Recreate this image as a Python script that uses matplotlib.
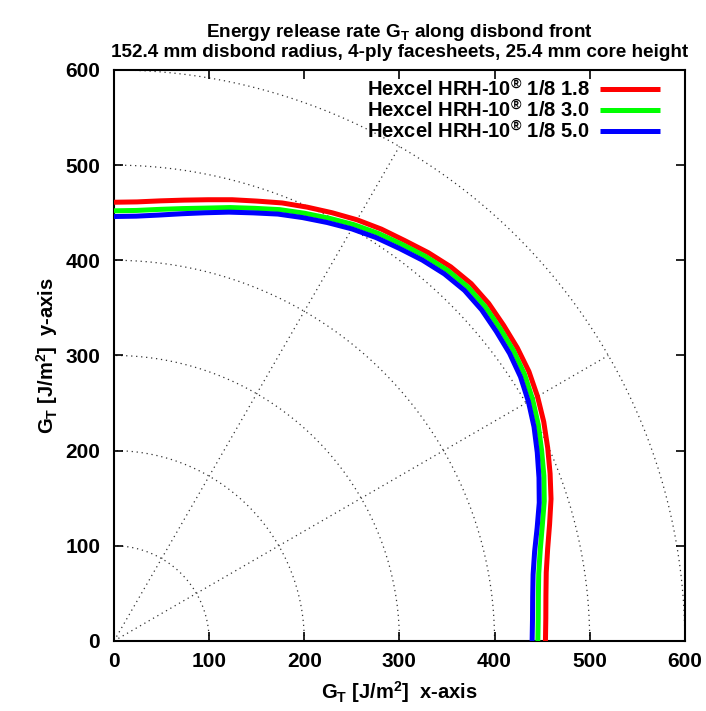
import numpy as np
import matplotlib
matplotlib.use("Agg")
import matplotlib.pyplot as plt

plt.rcParams['font.family'] = ['Liberation Sans', 'DejaVu Sans']
plt.rcParams['font.weight'] = 'bold'
plt.rcParams['axes.titleweight'] = 'bold'
plt.rcParams['axes.labelweight'] = 'bold'
plt.rcParams['mathtext.fontset'] = 'custom'
plt.rcParams['mathtext.rm'] = 'Liberation Sans:bold'
plt.rcParams['mathtext.it'] = 'Liberation Sans:italic:bold'
plt.rcParams['mathtext.bf'] = 'Liberation Sans:bold'

# angle along the disbond front (deg) and G_T values
angle = list(range(0, 91, 3))
g_18 = [453.5, 454.5, 456.5, 460, 466, 474, 483, 491, 499, 507, 514,
        520, 524, 527, 530, 531, 529, 525, 520, 516, 511, 505, 499,
        493, 486, 480, 474, 469, 465, 462, 461]
g_30 = [445.5, 446.5, 448.5, 452, 458, 466, 475.5, 484, 492, 500.5, 508,
        514.5, 519, 522, 525, 526, 524, 520, 515, 510.5, 505, 498.5, 492,
        485.5, 478, 471.5, 465, 460, 456, 453, 452]
g_50 = [439.5, 440.5, 442.5, 446, 452, 460.5, 470, 478.5, 487, 495.5, 503,
        509.5, 514, 517, 520, 521, 519, 515, 510, 505.5, 500, 493.5, 487,
        480.5, 473, 466.5, 460, 454.5, 450, 447, 446]

series = [
    (g_18, 'Hexcel HRH-10$^{®}$ 1/8 1.8', '#ff0000'),
    (g_30, 'Hexcel HRH-10$^{®}$ 1/8 3.0', '#00ff00'),
    (g_50, 'Hexcel HRH-10$^{®}$ 1/8 5.0', '#0000ff'),
]

fig = plt.figure(figsize=(7.06, 7.11), dpi=100)
ax = fig.add_axes([0.1615, 0.0985, 0.8085, 0.8031])

# polar grid: dotted circles and radial lines
t = np.radians(np.linspace(0, 90, 200))
for r in range(100, 601, 100):
    ax.plot(r * np.cos(t), r * np.sin(t), color='#333333', lw=0.9,
            ls=(0, (1, 3)), zorder=1)
for a in (30, 60):
    ar = np.radians(a)
    ax.plot([0, 600 * np.cos(ar)], [0, 600 * np.sin(ar)], color='#333333',
            lw=0.9, ls=(0, (1, 3)), zorder=1)

th = np.radians(angle)
for g, label, col in series:
    g = np.array(g)
    ax.plot(g * np.cos(th), g * np.sin(th), color=col, lw=3.6, label=label,
            solid_joinstyle='round', solid_capstyle='butt', zorder=3)

ax.set_xlim(0, 600)
ax.set_ylim(0, 600)
ax.set_xticks(range(0, 601, 100))
ax.set_yticks(range(0, 601, 100))
ax.tick_params(axis='both', direction='in', length=6.5, width=1.2, top=True,
               right=True, labelsize=15)
ax.tick_params(axis='y', pad=10)
ax.tick_params(axis='x', pad=8)
for s in ax.spines.values():
    s.set_linewidth(1.5)

ax.set_xlabel('G$_\\mathrm{T}$ [J/m$^2$]  x-axis', fontsize=14.5, labelpad=6)
ax.set_ylabel('G$_\\mathrm{T}$ [J/m$^2$]  y-axis', fontsize=14.5, labelpad=4)
ax.set_title('Energy release rate G$_\\mathrm{T}$ along disbond front\n'
             '152.4 mm disbond radius, 4-ply facesheets, 25.4 mm core height',
             fontsize=13.6, pad=9, linespacing=1.12)

leg = ax.legend(loc='upper right', bbox_to_anchor=(0.967, 0.996),
                markerfirst=False, frameon=False, fontsize=14.5,
                handlelength=3.0, handletextpad=0.5, labelspacing=-0.05,
                borderaxespad=0, borderpad=0.3)

fig.savefig('out.png', dpi=100)
